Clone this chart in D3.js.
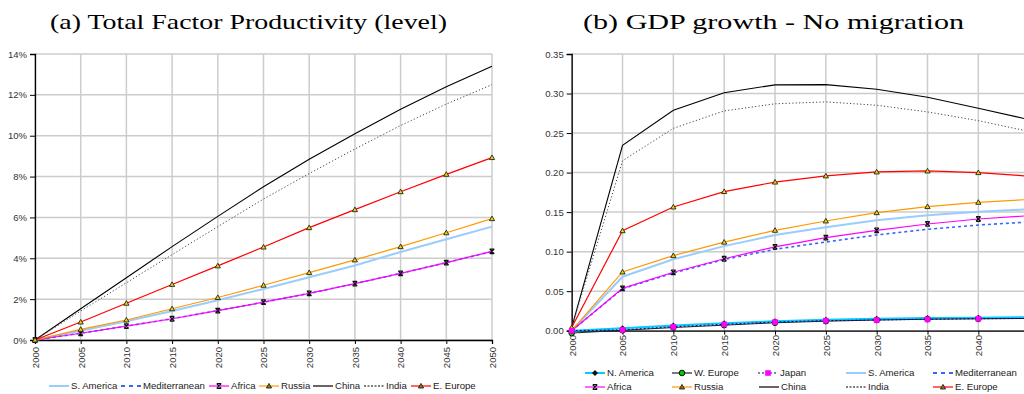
<!DOCTYPE html>
<html><head><meta charset="utf-8">
<script src="https://cdn.jsdelivr.net/npm/d3@7"></script>
<style>
html,body{margin:0;padding:0;background:#fff;}
svg{display:block;}
</style></head><body>
<svg id="c" width="1024" height="394"></svg>
<script>
// ---------- DATA ----------
const yearsA = [2000,2005,2010,2015,2020,2025,2030,2035,2040,2045,2050];
const tfpSAmerica = [0,0.45,0.92,1.42,1.95,2.5,3.07,3.65,4.31,4.93,5.55];
const tfpMediterranean = [0,0.33,0.68,1.04,1.44,1.85,2.28,2.76,3.26,3.79,4.33];
const tfpAfrica = [0,0.33,0.68,1.04,1.44,1.85,2.28,2.76,3.26,3.79,4.34];
const tfpRussia = [0,0.52,0.98,1.53,2.08,2.68,3.30,3.92,4.57,5.25,5.94];
const tfpChina = [0,1.53,3.05,4.57,6.05,7.5,8.85,10.1,11.3,12.4,13.4];
const tfpIndia = [0,1.42,2.8,4.18,5.55,6.9,8.15,9.35,10.5,11.55,12.5];
const tfpEEurope = [0,0.88,1.80,2.72,3.63,4.55,5.50,6.38,7.26,8.11,8.93];
const yTicksA = [0,2,4,6,8,10,12,14];

const yearsB = [2000,2005,2010,2015,2020,2025,2030,2035,2040,2045];
const xTicksB = [2000,2005,2010,2015,2020,2025,2030,2035,2040,2045,2050];
const xLabelsB = [2000,2005,2010,2015,2020,2025,2030,2035,2040];
const gdpNAmerica = [0,0.003,0.0065,0.0095,0.012,0.014,0.015,0.016,0.0165,0.017];
const gdpWEurope = [-0.003,0.0005,0.004,0.007,0.010,0.012,0.0135,0.0145,0.015,0.0155];
const gdpJapan = [0,0.001,0.005,0.008,0.011,0.0127,0.0135,0.0144,0.0152,0.0155];
const gdpSAmerica = [0,0.0683,0.0903,0.107,0.121,0.1308,0.1397,0.146,0.1506,0.1536];
const gdpMediterranean = [0,0.053,0.073,0.09,0.103,0.1122,0.1211,0.1283,0.1337,0.1375];
const gdpAfrica = [0,0.0536,0.0739,0.091,0.106,0.1177,0.127,0.135,0.1413,0.1455];
const gdpRussia = [0,0.0743,0.095,0.112,0.127,0.1388,0.1493,0.157,0.1624,0.166];
const gdpChina = [0.004,0.2346,0.2789,0.301,0.311,0.3113,0.3054,0.2953,0.2814,0.267];
const gdpIndia = [0.004,0.215,0.256,0.278,0.287,0.2894,0.2852,0.2767,0.2657,0.252];
const gdpEEurope = [0.004,0.1265,0.1565,0.176,0.188,0.1958,0.2008,0.2021,0.2,0.1955];
const yTicksB = [0,0.05,0.10,0.15,0.20,0.25,0.30,0.35];

const titleA = "(a) Total Factor Productivity (level)";
const titleB = "(b) GDP growth - No migration";

// ---------- STYLES ----------
const SANS = "'Liberation Sans', Arial, sans-serif";
const SERIF = "'Liberation Serif', 'DejaVu Serif', serif";
const ST = {
  "N. America": {color:"#00ccff", w:2, dash:null, marker:"diamond"},
  "W. Europe": {color:"#222", w:1, dash:null, marker:"circle"},
  "Japan": {color:"#000099", w:1, dash:"2,2", marker:"square"},
  "S. America": {color:"#99ccff", w:2, dash:null, marker:null},
  "Mediterranean": {color:"#3366ff", w:1.6, dash:"3,3", marker:null},
  "Africa": {color:"#ff00ff", w:1.2, dash:null, marker:"x"},
  "Russia": {color:"#ff9900", w:1.2, dash:null, marker:"tri"},
  "China": {color:"#000", w:1.1, dash:null, marker:null},
  "India": {color:"#444", w:1, dash:"1.2,2.2", marker:null},
  "E. Europe": {color:"#ff0000", w:1.2, dash:null, marker:"tri"}
};

const svg = d3.select("#c");

function marker(g, type, x, y, inLegend){
  if(type==="tri"){
    g.append("path").attr("d",`M${x},${y-2.6}L${x+2.6},${y+2}L${x-2.6},${y+2}Z`)
      .attr("fill", inLegend ? "#8a7a00" : "#e8d800").attr("stroke","#222").attr("stroke-width",0.9);
  } else if(type==="x"){
    g.append("path").attr("d",`M${x-2.3},${y-2.3}L${x+2.3},${y+2.3}M${x+2.3},${y-2.3}L${x-2.3},${y+2.3}M${x-2.3},${y-2.3}H${x+2.3}M${x-2.3},${y+2.3}H${x+2.3}`)
      .attr("stroke","#111").attr("stroke-width",1.2).attr("fill","none");
  } else if(type==="square"){
    g.append("rect").attr("x",x-2.8).attr("y",y-2.8).attr("width",5.6).attr("height",5.6).attr("fill","#ff00ff");
  } else if(type==="circle"){
    g.append("circle").attr("cx",x).attr("cy",y).attr("r",2.8).attr("fill","#00cc00").attr("stroke","#111").attr("stroke-width",1);
  } else if(type==="diamond"){
    g.append("path").attr("d",`M${x},${y-3}L${x+3},${y}L${x},${y+3}L${x-3},${y}Z`).attr("fill","#111");
  }
}

function panel(cfg){
  const {x, y, xTicks, xLabels, yTicks, yFmt, series, years, xLabelY} = cfg;
  const g = svg.append("g");
  // grid
  g.selectAll(".gy").data(yTicks).join("line")
    .attr("x1", x.range()[0]).attr("x2", x.range()[1])
    .attr("y1", d=>y(d)).attr("y2", d=>y(d))
    .attr("stroke","#cccccc").attr("stroke-width",1.5);
  g.selectAll(".gx").data(xTicks).join("line")
    .attr("x1", d=>x(d)).attr("x2", d=>x(d))
    .attr("y1", y.range()[0]).attr("y2", y.range()[1])
    .attr("stroke","#cccccc").attr("stroke-width",1.5);
  // y axis
  const ya = g.append("g").attr("transform",`translate(${x.range()[0]},0)`)
    .call(d3.axisLeft(y).tickValues(yTicks).tickFormat(yFmt).tickSize(5).tickPadding(3));
  ya.attr("font-family", null).attr("font-size", null);
  ya.select(".domain").attr("stroke","#000").attr("stroke-width",1.3);
  ya.selectAll(".tick line").attr("stroke","#000");
  ya.selectAll("text").style("font-size","9.5px").attr("fill","#333").style("font-family",SANS);
  // x axis
  const xa = g.append("g").attr("transform",`translate(0,${y.range()[0]})`)
    .call(d3.axisBottom(x).tickValues(xTicks).tickFormat(d=> xLabels.includes(d) ? d3.format("d")(d) : "").tickSize(4));
  xa.select(".domain").attr("stroke","#000").attr("stroke-width",1.3);
  xa.selectAll(".tick line").attr("stroke","#000");
  xa.selectAll("text")
    .style("font-size","9.5px").attr("fill","#333").style("font-family",SANS)
    .attr("text-anchor","end").attr("dy","0.35em").attr("y",0)
    .attr("transform",`translate(0,${xLabelY - y.range()[0]}) rotate(-90)`);
  // lines
  const line = d3.line().x((d,i)=>x(years[i])).y(d=>y(d));
  series.forEach(s=>{
    const st = ST[s.name];
    g.append("path").datum(s.values).attr("d", line)
      .attr("fill","none").attr("stroke", st.color).attr("stroke-width", st.w)
      .attr("stroke-dasharray", st.dash);
  });
  series.forEach(s=>{
    const st = ST[s.name];
    if(st.marker) s.values.forEach((v,i)=> marker(g, st.marker, x(years[i]), y(v), false));
  });
}

function legend(items){
  const g = svg.append("g");
  items.forEach(it=>{
    const st = ST[it.name];
    g.append("line").attr("x1",it.x1).attr("x2",it.x1+20).attr("y1",it.y).attr("y2",it.y)
      .attr("stroke", it.name==="India" ? "#000" : st.color)
      .attr("stroke-width", st.w===2 ? 2 : (it.name==="Mediterranean"?2.2:1.2))
      .attr("stroke-dasharray", it.name==="India" ? "2,1.5" : (it.name==="Mediterranean" ? "4,4" : st.dash));
    if(st.marker) marker(g, st.marker, it.x1+10, it.y, true);
    g.append("text").attr("x", it.x1+22).attr("y", it.y).attr("dy","0.35em")
      .style("font-size","9.6px").style("font-family",SANS).attr("fill","#222").text(it.name);
  });
}

// ---------- PANEL A ----------
const xA = d3.scaleLinear().domain([2000,2050]).range([35,492]);
const yA = d3.scaleLinear().domain([0,14]).range([340,54]);
panel({x:xA, y:yA, xTicks:yearsA, xLabels:yearsA, yTicks:yTicksA, yFmt:d=>d+"%", years:yearsA, xLabelY:347,
  series:[
    {name:"S. America", values:tfpSAmerica},
    {name:"Mediterranean", values:tfpMediterranean},
    {name:"Africa", values:tfpAfrica},
    {name:"Russia", values:tfpRussia},
    {name:"China", values:tfpChina},
    {name:"India", values:tfpIndia},
    {name:"E. Europe", values:tfpEEurope}
  ]});

// ---------- PANEL B ----------
const xB = d3.scaleLinear().domain([2000,2050]).range([571.7,1080]);
const yB = d3.scaleLinear().domain([0,0.35]).range([330.7,54]);
panel({x:xB, y:yB, xTicks:xTicksB, xLabels:xLabelsB, yTicks:yTicksB, yFmt:d3.format(".2f"), years:yearsB, xLabelY:335,
  series:[
    {name:"N. America", values:gdpNAmerica},
    {name:"W. Europe", values:gdpWEurope},
    {name:"S. America", values:gdpSAmerica},
    {name:"Mediterranean", values:gdpMediterranean},
    {name:"Africa", values:gdpAfrica},
    {name:"Russia", values:gdpRussia},
    {name:"China", values:gdpChina},
    {name:"India", values:gdpIndia},
    {name:"E. Europe", values:gdpEEurope},
    {name:"Japan", values:gdpJapan}
  ]});

// ---------- TITLES ----------
svg.append("text").attr("x",50).attr("y",29).style("font-family",SERIF)
  .style("font-size","21px").attr("fill","#000").attr("textLength",397).attr("lengthAdjust","spacingAndGlyphs").text(titleA);
svg.append("text").attr("x",583).attr("y",29).style("font-family",SERIF)
  .style("font-size","21px").attr("fill","#000").attr("textLength",381).attr("lengthAdjust","spacingAndGlyphs").text(titleB);

// ---------- LEGENDS ----------
legend([
  {name:"S. America", x1:49, y:386},
  {name:"Mediterranean", x1:121, y:386},
  {name:"Africa", x1:209, y:386},
  {name:"Russia", x1:259, y:386},
  {name:"China", x1:313, y:386},
  {name:"India", x1:364, y:386},
  {name:"E. Europe", x1:411, y:386}
]);
legend([
  {name:"N. America", x1:585, y:373},
  {name:"W. Europe", x1:672, y:373},
  {name:"Japan", x1:758, y:373},
  {name:"S. America", x1:846, y:373},
  {name:"Mediterranean", x1:933, y:373},
  {name:"Africa", x1:585, y:387},
  {name:"Russia", x1:672, y:387},
  {name:"China", x1:759, y:387},
  {name:"India", x1:846, y:387},
  {name:"E. Europe", x1:933, y:387}
]);
</script>
</body></html>
